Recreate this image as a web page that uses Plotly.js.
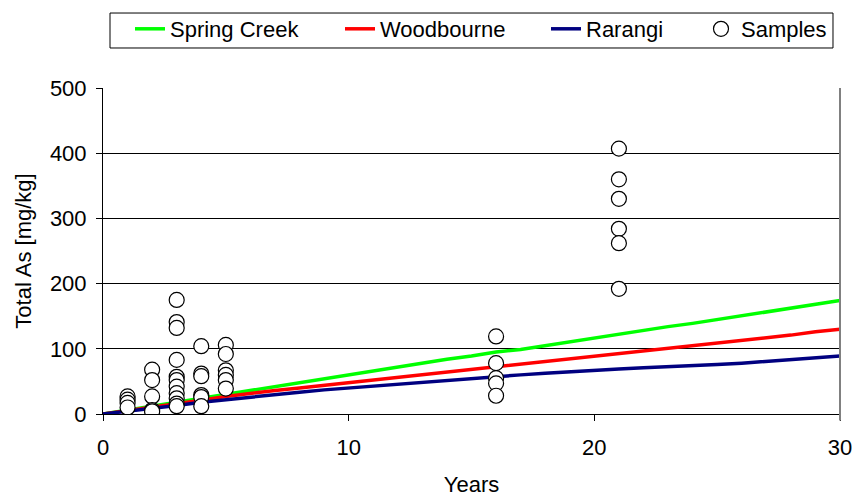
<!DOCTYPE html>
<html>
<head>
<meta charset="utf-8">
<script src="https://cdn.plot.ly/plotly-3.0.1.min.js"></script>
<style>html,body{margin:0;padding:0;background:#fff;}#chart{width:852px;height:497px;}</style>
</head>
<body>
<div id="chart"></div>
<script>
// Model curves (yearly)
const years = [0,1,2,3,4,5,6,7,8,9,10,11,12,13,14,15,16,17,18,19,20,21,22,23,24,25,26,27,28,29,30];
const springCreek = [0,6,12,18,25,31,37,43,49,54,60,66,72,78,84,89,95,99,105,111,117,122,128,134,139,145,151,157,162,168,174];
const woodbourne = [0,5,11,16,21,27,32,36,40,44,48,52,57,61,65,69,73,77,81,85,89,93,96,100,104,108,113,117,121,126,130];
const rarangi = [0,4,9,13,18,22,26.5,30,33.5,37,40,43,46,48.5,51,54,57,60,62.5,65,67,69,71,72.5,73.5,76,78,81,84,86,89];

// Samples
const sampleYears = [1,1,1,1, 2,2,2,2,2, 3,3,3,3,3,3,3,3,3,3,3, 4,4,4,4,4,4, 5,5,5,5,5,5, 16,16,16,16,16, 21,21,21,21,21,21];
const sampleAs = [27,22,17,10, 68,52,27,6,4, 175,141,132,83,57,52,42,32,24,16,12, 104,62,58,29,26,12, 106,92,67,60,52,39, 119,78,55,47,28, 407,360,330,284,262,192];

const xTicks = [0,10,20,30];
const yTicks = [0,100,200,300,400,500];

const FONT = 'Arial, "Liberation Sans", sans-serif';
const FS = 22;

const traces = [
  {x: years, y: springCreek, name: 'Spring Creek', legend: 'legend', type: 'scatter', mode: 'lines', line: {color: '#00ff00', width: 3.5}},
  {x: years, y: woodbourne, name: 'Woodbourne', legend: 'legend2', type: 'scatter', mode: 'lines', line: {color: '#ff0000', width: 3.5}},
  {x: years, y: rarangi, name: 'Rarangi', legend: 'legend3', type: 'scatter', mode: 'lines', line: {color: '#000080', width: 3.5}},
  {x: sampleYears, y: sampleAs, name: 'Samples', legend: 'legend4', type: 'scatter', mode: 'markers',
   marker: {symbol: 'circle', size: 15, color: '#ffffff', line: {color: '#000000', width: 1.2}}}
];

function leg(px) {
  return {
    orientation: 'h', xref: 'container', yref: 'container',
    x: px / 852, y: 1 - 8 / 497, xanchor: 'left', yanchor: 'top',
    borderwidth: 0, bgcolor: 'rgba(0,0,0,0)',
    font: {family: FONT, size: FS, color: '#000'}
  };
}

const layout = {
  width: 852, height: 497,
  margin: {l: 103, r: 12, t: 88, b: 83},
  paper_bgcolor: '#fff', plot_bgcolor: '#fff',
  font: {family: FONT, size: FS, color: '#000'},
  showlegend: true,
  legend: leg(130),
  legend2: leg(340),
  legend3: leg(546),
  legend4: leg(701),
  xaxis: {
    range: [0, 30], tickvals: xTicks, ticktext: xTicks.map(String),
    showgrid: false, zeroline: false, showline: true, linecolor: '#000', linewidth: 1,
    ticks: 'outside', ticklen: 6, tickcolor: '#000', ticklabelstandoff: 8,
    ticklabeloverflow: 'allow',
    tickfont: {family: FONT, size: FS},
    title: {text: 'Years', font: {family: FONT, size: FS}, standoff: 20}
  },
  yaxis: {
    range: [0, 500], tickvals: yTicks, ticktext: yTicks.map(String),
    showgrid: true, gridcolor: '#000', gridwidth: 1, zeroline: false,
    showline: true, linecolor: '#000', linewidth: 1,
    ticks: 'outside', ticklen: 6, tickcolor: '#000', ticklabelstandoff: 5,
    tickfont: {family: FONT, size: FS},
    title: {text: 'Total As [mg/kg]', font: {family: FONT, size: FS}, standoff: 12}
  },
  shapes: [
    {type: 'line', xref: 'paper', yref: 'paper', x0: 1, x1: 1, y0: -0.02, y1: 1, line: {color: '#808080', width: 2}},
    {type: 'rect', xref: 'paper', yref: 'paper', x0: 0.0095, x1: 0.9905, y0: 1.1227, y1: 1.230, line: {color: '#000', width: 1}, fillcolor: 'rgba(0,0,0,0)', layer: 'below'}
  ]
};

Plotly.newPlot('chart', traces, layout, {displayModeBar: false, staticPlot: true});
</script>
</body>
</html>
